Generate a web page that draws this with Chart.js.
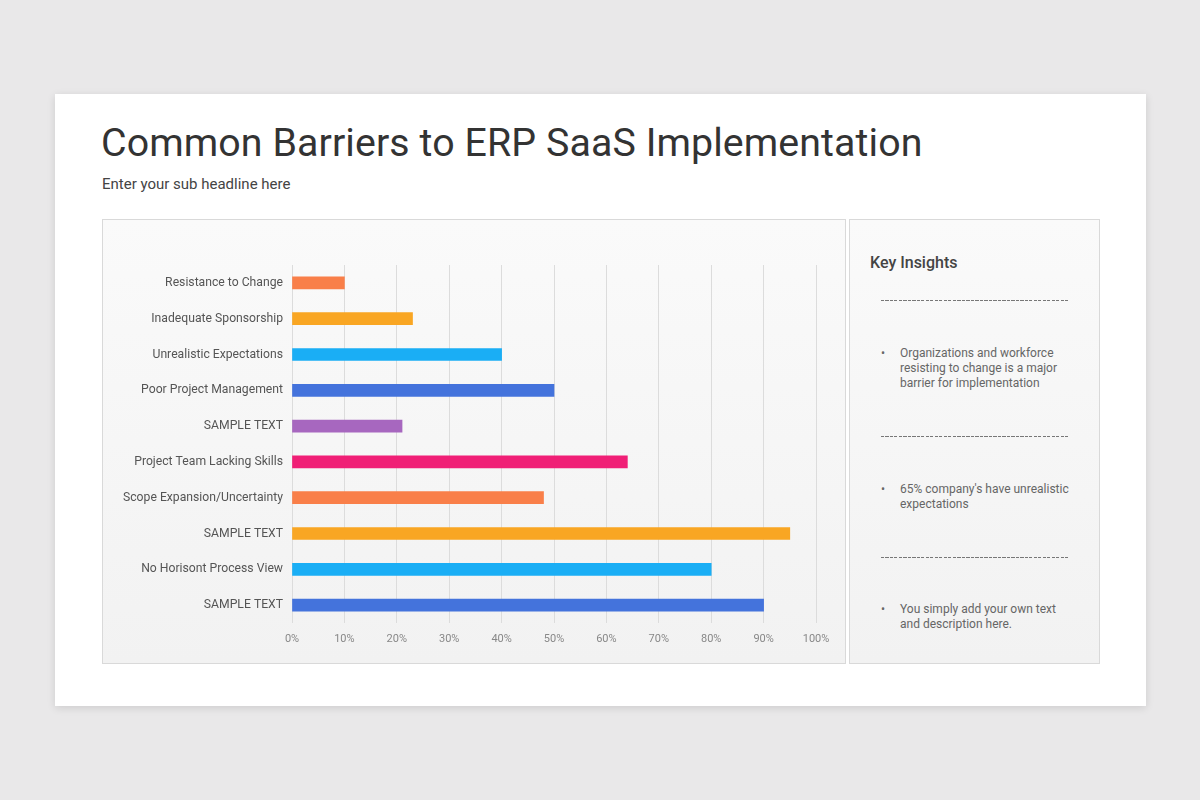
<!DOCTYPE html>
<html>
<head>
<meta charset="utf-8">
<script src="https://cdn.jsdelivr.net/npm/chart.js@4.4.1/dist/chart.umd.min.js"></script>
<style>
  html, body { margin: 0; padding: 0; }
  body { width: 1200px; height: 800px; background: #e9e8e9; position: relative; font-family: Roboto, "Noto Sans", sans-serif; overflow: hidden; }
  .slide { position: absolute; left: 55px; top: 94px; width: 1091px; height: 612px; background: #fff; box-shadow: 0 2px 8px rgba(0,0,0,0.12); }
  h1 { position: absolute; left: 101px; top: 120px; margin: 0; font-size: 39.3px; font-weight: 400; color: #333; white-space: nowrap; letter-spacing: 0.1px; }
  .sub { position: absolute; left: 102px; top: 175px; font-size: 15px; color: #444; }
  .panel { position: absolute; top: 219px; height: 443px; border: 1px solid #d9d9d9; background: linear-gradient(180deg, #fafafa 0%, #f2f2f2 100%); }
  .left { left: 102px; width: 742px; }
  .right { left: 849px; width: 249px; }
  #wrap { position: absolute; left: 103px; top: 220px; width: 742px; height: 443px; }
  .ki { position: absolute; left: 870px; top: 253px; font-size: 16px; font-weight: 500; color: #444; }
  .dash { position: absolute; left: 881px; width: 187px; height: 1px; background: repeating-linear-gradient(90deg, #777 0 3px, transparent 3px 4.5px); }
  .item { position: absolute; left: 881px; width: 200px; font-size: 12px; line-height: 15px; color: #666; }
  .item span { position: absolute; left: 0; }
  .item p { margin: 0 0 0 19px; width: 172px; }
</style>
</head>
<body>
<div class="slide"></div>
<h1>Common Barriers to ERP SaaS Implementation</h1>
<div class="sub">Enter your sub headline here</div>
<div class="panel left"></div>
<div class="panel right"></div>
<div id="wrap"><canvas id="chart"></canvas></div>

<div class="ki">Key Insights</div>
<div class="dash" style="top:300px"></div>
<div class="item" style="top:346px"><span>•</span><p>Organizations and workforce resisting to change is a major barrier for implementation</p></div>
<div class="dash" style="top:436px"></div>
<div class="item" style="top:482px"><span>•</span><p>65% company's have unrealistic expectations</p></div>
<div class="dash" style="top:557px"></div>
<div class="item" style="top:602px"><span>•</span><p>You simply add your own text and description here.</p></div>

<script>
const categories = [
  'Resistance to Change',
  'Inadequate Sponsorship',
  'Unrealistic Expectations',
  'Poor Project Management',
  'SAMPLE TEXT',
  'Project Team Lacking Skills',
  'Scope Expansion/Uncertainty',
  'SAMPLE TEXT',
  'No Horisont Process View',
  'SAMPLE TEXT'
];
const values = [10, 23, 40, 50, 21, 64, 48, 95, 80, 90];
const barColors = [
  '#f97f49', '#f9a623', '#1aaef5', '#4473dc', '#a767bf',
  '#f01f76', '#f97f49', '#f9a623', '#1aaef5', '#4473dc'
];
const xTicks = [0, 10, 20, 30, 40, 50, 60, 70, 80, 90, 100];

const ctx = document.getElementById('chart');
new Chart(ctx, {
  type: 'bar',
  data: {
    labels: categories,
    datasets: [{
      data: values,
      backgroundColor: barColors,
      barThickness: 12,
    }],
  },
  options: {
    indexAxis: 'y',
    responsive: true,
    maintainAspectRatio: false,
    animation: false,
    layout: { padding: { top: 45, right: 29, left: 0, bottom: 0 } },
    plugins: { legend: { display: false }, tooltip: { enabled: false } },
    scales: {
      x: {
        min: 0,
        max: 100,
        afterBuildTicks: (scale) => { scale.ticks = xTicks.map((v) => ({ value: v })); },
        afterFit: (scale) => { scale.height = 40; },
        border: { display: false },
        grid: { color: '#dcdcdc', drawTicks: false },
        ticks: {
          padding: 10,
          color: '#888',
          font: { family: 'Roboto', size: 11 },
          callback: (v) => v + '%',
        },
      },
      y: {
        afterFit: (scale) => { scale.width = 189; },
        border: { display: false },
        grid: { display: false, drawTicks: false },
        ticks: {
          padding: 9,
          color: '#555',
          font: { family: 'Roboto', size: 12.2 },
        },
      },
    },
  },
});
</script>
</body>
</html>
